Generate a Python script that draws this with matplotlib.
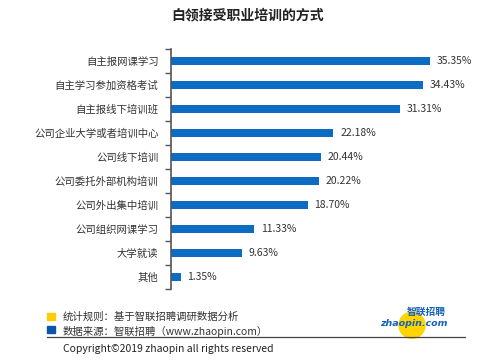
import matplotlib.pyplot as plt
from matplotlib.patches import Rectangle, Ellipse

plt.rcParams['font.family'] = ['Noto Sans CJK SC', 'DejaVu Sans']

# data
categories = ["自主报网课学习", "自主学习参加资格考试", "自主报线下培训班", "公司企业大学或者培训中心",
              "公司线下培训", "公司委托外部机构培训", "公司外出集中培训", "公司组织网课学习",
              "大学就读", "其他"]
values = [35.35, 34.43, 31.31, 22.18, 20.44, 20.22, 18.70, 11.33, 9.63, 1.35]

bar_color = "#0b6cc2"
text_color = "#333333"

fig = plt.figure(figsize=(5, 3.63), dpi=100)
fig.patch.set_facecolor("white")

ax = fig.add_axes([0.342, 0.204, 0.586, 0.661])
ypos = list(range(len(categories)))
ax.barh(ypos, values, height=0.34, color=bar_color)
ax.set_ylim(len(categories) - 0.5, -0.5)
ax.set_xlim(0, 40)

for y, v in zip(ypos, values):
    ax.text(v + 0.9, y, f"{v:.2f}%", va="center", ha="left", fontsize=7.5, color=text_color)

# ticks between categories
ax.set_yticks(ypos)
ax.set_yticklabels(categories, fontsize=7.5, color=text_color)
ax.tick_params(axis="y", length=0, pad=9)
ax.set_yticks([y - 0.5 for y in ypos] + [len(categories) - 0.5], minor=True)
ax.tick_params(axis="y", which="minor", length=4, width=1, color="#555555")
ax.set_xticks([])
for s in ["top", "right", "bottom"]:
    ax.spines[s].set_visible(False)
ax.spines["left"].set_color("#555555")
ax.spines["left"].set_linewidth(1.2)

fig.text(0.496, 0.958, "白领接受职业培训的方式", ha="center", va="center",
         fontsize=10, fontweight="bold", color="#222222")

# footer
fig.patches.append(Rectangle((0.094, 0.118), 0.015, 0.02, transform=fig.transFigure,
                             color="#ffcc00", figure=fig))
fig.patches.append(Rectangle((0.094, 0.083), 0.015, 0.02, transform=fig.transFigure,
                             color="#0b55a8", figure=fig))
fig.text(0.126, 0.129, "统计规则：基于智联招聘调研数据分析", fontsize=7.5, va="center", color=text_color)
fig.text(0.126, 0.088, "数据来源：智联招聘（www.zhaopin.com）", fontsize=7.5, va="center", color=text_color)
fig.add_artist(plt.Line2D([0.094, 0.93], [0.071, 0.071], color="#444444", lw=0.9))
fig.text(0.126, 0.038, "Copyright©2019 zhaopin all rights reserved", fontsize=7.5,
         va="center", color="#222222")

# logo
fig.patches.append(Ellipse((0.824, 0.104), 0.052, 0.072, transform=fig.transFigure,
                           color="#ffd400", figure=fig))
fig.text(0.76, 0.11, "zhaopin.com", fontsize=6.8, fontweight="bold", style="italic",
         color="#1560b8", va="center", family="DejaVu Sans")
fig.text(0.814, 0.142, "智联招聘", fontsize=7, fontweight="bold", style="italic",
         color="#1560b8", va="center")

fig.savefig("out.png", dpi=100)
